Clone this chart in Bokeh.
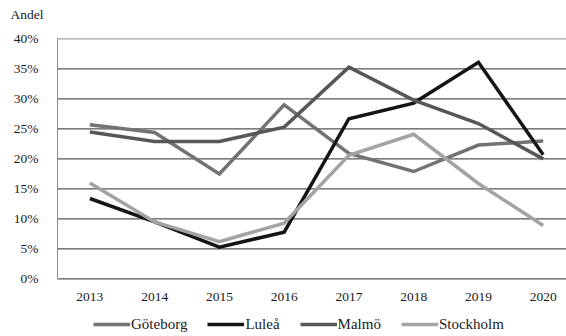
from bokeh.plotting import figure
from bokeh.models import (Range1d, FixedTicker, PrintfTickFormatter, Label,
                          Legend, LegendItem, ColumnDataSource)
from bokeh.embed import file_html
from bokeh.resources import INLINE

years = [2013, 2014, 2015, 2016, 2017, 2018, 2019, 2020]
goteborg = [25.7, 24.4, 17.5, 29.0, 20.9, 17.9, 22.3, 23.0]
lulea = [13.4, 9.5, 5.3, 7.8, 26.7, 29.3, 36.1, 20.7]
malmo = [24.5, 22.9, 22.9, 25.3, 35.3, 29.8, 25.9, 20.0]
stockholm = [16.0, 9.5, 6.2, 9.3, 20.6, 24.1, 15.9, 8.9]
y_ticks = [0, 5, 10, 15, 20, 25, 30, 35, 40]

FONT = "Liberation Serif"

# the frame covers the whole canvas; axes are pinned inside it so that the
# title, tick labels and legend all share the same drawing area
x_left = years[0] - 0.5
x_range = Range1d(2011.62, 2020.36)
p = figure(width=566, height=336, output_backend="svg", toolbar_location=None,
           x_range=x_range, y_range=Range1d(-9.6, 46.4),
           min_border_left=0, min_border_right=0, min_border_top=0,
           min_border_bottom=0)
p.outline_line_color = None
p.background_fill_color = "white"
p.border_fill_color = "white"
p.xgrid.grid_line_color = None
p.ygrid.grid_line_color = None

# horizontal gridlines, starting at the y axis; the top one is lighter
grid_src = ColumnDataSource(dict(
    y=y_ticks,
    x0=[x_left] * len(y_ticks),
    x1=[x_range.end] * len(y_ticks),
    color=["#2a2a2a"] * (len(y_ticks) - 1) + ["#8a8a8a"],
))
p.segment(x0="x0", y0="y", x1="x1", y1="y", source=grid_src,
          line_color="color", line_width=1)

# y axis
p.yaxis.fixed_location = x_left
p.yaxis.ticker = FixedTicker(ticks=y_ticks)
p.yaxis.bounds = (y_ticks[0], y_ticks[-1])
p.yaxis.formatter = PrintfTickFormatter(format="%d%%")
p.yaxis.major_tick_line_color = None
p.yaxis.minor_tick_line_color = None
p.yaxis.axis_line_color = "#8a8a8a"
p.yaxis.axis_line_width = 1
p.yaxis.major_label_standoff = 13
p.yaxis.major_label_text_font = FONT
p.yaxis.major_label_text_font_size = "13.5px"
p.yaxis.major_label_text_color = "#1a1a1a"

# x axis sits on the 0 % line
p.xaxis.fixed_location = 0
p.xaxis.ticker = FixedTicker(ticks=years)
p.xaxis.major_tick_line_color = None
p.xaxis.minor_tick_line_color = None
p.xaxis.axis_line_color = None
p.xaxis.major_label_standoff = 8
p.xaxis.major_label_text_font = FONT
p.xaxis.major_label_text_font_size = "13.5px"
p.xaxis.major_label_text_color = "#1a1a1a"

series = [
    ("Göteborg", goteborg, "#737373"),
    ("Luleå", lulea, "#151515"),
    ("Malmö", malmo, "#575757"),
    ("Stockholm", stockholm, "#a3a3a3"),
]

items = []
for name, vals, color in series:
    src = ColumnDataSource(dict(x=years, y=vals))
    r = p.line("x", "y", source=src, line_color=color, line_width=3.5,
               line_join="miter")
    items.append(LegendItem(label=name, renderers=[r]))

legend = Legend(items=items, orientation="horizontal", location=(93, 2),
                glyph_width=37, glyph_height=20, label_height=20,
                label_standoff=1, spacing=20,
                padding=0, margin=0, border_line_color=None,
                background_fill_alpha=0, label_text_font=FONT,
                label_text_font_size="15px", label_text_color="#1a1a1a")
p.add_layout(legend, "center")

# y-axis title in the top-left corner
p.add_layout(Label(x=10, y=322, x_units="screen", y_units="screen",
                   text="Andel", text_font=FONT, text_font_size="13.5px",
                   text_color="#1a1a1a", text_baseline="middle"))

open("out.html", "w").write(file_html(p, INLINE))
